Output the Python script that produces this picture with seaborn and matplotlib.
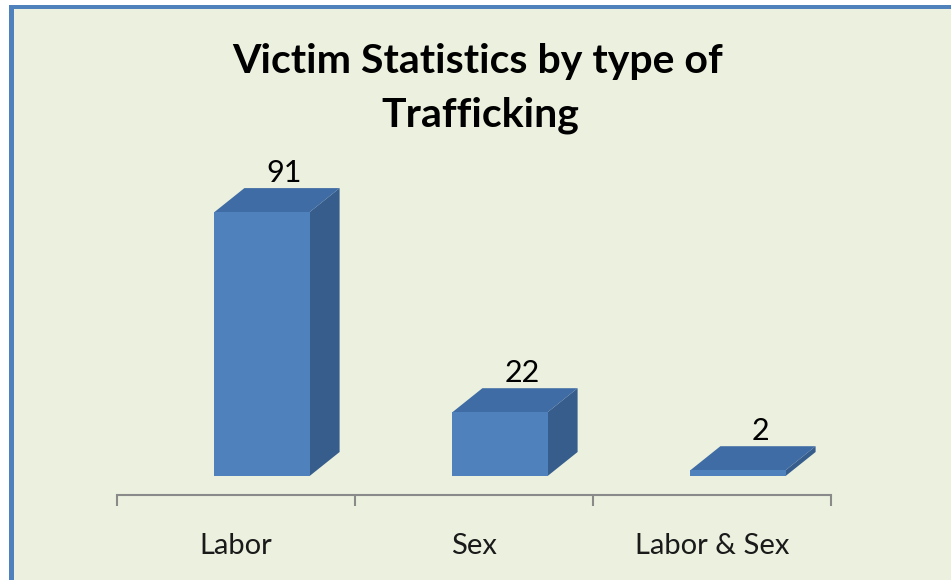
import numpy as np
import pandas as pd
import matplotlib
matplotlib.use("Agg")
import matplotlib.pyplot as plt
from matplotlib.patches import Rectangle, Polygon
import seaborn as sns

# ---- data ----
categories = ["Labor", "Sex", "Labor & Sex"]
victims = [91, 22, 2]
title_lines = ["Victim Statistics by type of", "Trafficking"]

# ---- style ----
BG = "#EBF1DE"
BORDER = "#4F81BD"
FRONT = "#4F81BD"
TOP = "#3F6CA5"
SIDE = "#375D8C"
AXIS_GRAY = "#8A8A8A"

sns.set_theme(style="white")
plt.rcParams["font.family"] = ["Lato", "DejaVu Sans"]

W, H = 951, 580
fig = plt.figure(figsize=(W / 100, H / 100), dpi=100)
fig.patch.set_facecolor("white")

# border + background panel
fig.add_artist(Rectangle((9 / W, 0), 1 - 9 / W, (H - 5) / H, transform=fig.transFigure,
                         facecolor=BORDER, edgecolor="none", zorder=-10))
fig.add_artist(Rectangle((14 / W, 0), 1 - 14 / W, (H - 9) / H, transform=fig.transFigure,
                         facecolor=BG, edgecolor="none", zorder=-9))

# axes placed in pixel geometry
ax_left, ax_right, ax_bottom, ax_top = 117, 831, 495, 186
ax = fig.add_axes([ax_left / W, (H - ax_bottom) / H, (ax_right - ax_left) / W,
                   (ax_bottom - ax_top) / H])
ax.set_facecolor("none")

df = pd.DataFrame({"category": categories, "victims": victims})
sns.barplot(data=df, x="category", y="victims", color=FRONT, saturation=1,
            width=0.4, linewidth=0, ax=ax, zorder=3)

ax.set_xlim(-0.5, len(categories) - 0.5)
ax.set_ylim(-6.55, 100)

# 3D faces (bars are drawn slightly right of the category centre, as in the 3D view)
depth_dx, depth_dy = 30, 24   # pixels
shift_px = 26                  # perspective shift of the front face
fig.canvas.draw()
inv = ax.transData.inverted()
for p, v in zip(ax.patches, victims):
    x0 = p.get_x()
    x1 = x0 + p.get_width()
    h = p.get_height()
    pts = ax.transData.transform([(x0, 0), (x1, 0), (x1, h), (x0, h)])
    (bx0, by0), (bx1, _), (_, ty), _ = pts
    bx0 += shift_px
    bx1 += shift_px
    nx0 = inv.transform([(bx0, by0)])[0][0]
    p.set_x(nx0)
    side = [(bx1, by0), (bx1 + depth_dx, by0 + depth_dy),
            (bx1 + depth_dx, ty + depth_dy), (bx1, ty)]
    top = [(bx0, ty), (bx0 + depth_dx, ty + depth_dy),
           (bx1 + depth_dx, ty + depth_dy), (bx1, ty)]
    ax.add_patch(Polygon(inv.transform(side), closed=True, facecolor=SIDE,
                         edgecolor="none", zorder=2, clip_on=False))
    ax.add_patch(Polygon(inv.transform(top), closed=True, facecolor=TOP,
                         edgecolor="none", zorder=2, clip_on=False))
    lx, ly = inv.transform([((bx0 + bx1) / 2 + depth_dx * 0.75, ty + depth_dy + 1)])[0]
    ax.text(lx, ly, f"{v}", ha="center", va="bottom", fontsize=22, color="black",
            zorder=5, clip_on=False)

# axes styling
for s in ["left", "top", "right"]:
    ax.spines[s].set_visible(False)
ax.spines["bottom"].set_color(AXIS_GRAY)
ax.spines["bottom"].set_linewidth(1.5)
ax.set_yticks([])
ax.set_xlabel("")
ax.set_ylabel("")
ax.set_xticks(range(len(categories)))
ax.set_xticklabels(categories, fontsize=21, color="#1a1a1a")
ax.set_xticks(np.arange(len(categories) + 1) - 0.5, minor=True)
ax.tick_params(axis="x", which="major", length=0, pad=27)
ax.tick_params(axis="x", which="minor", length=8, width=1.5, color=AXIS_GRAY,
               direction="out", bottom=True)

# title
fig.text(478 / W, 1 - 73 / H, title_lines[0], ha="center", va="baseline",
         fontsize=29.5, fontweight="bold", color="black")
fig.text(480 / W, 1 - 127 / H, title_lines[1], ha="center", va="baseline",
         fontsize=29.5, fontweight="bold", color="black")

fig.savefig("out.png", dpi=100, facecolor=fig.get_facecolor())
